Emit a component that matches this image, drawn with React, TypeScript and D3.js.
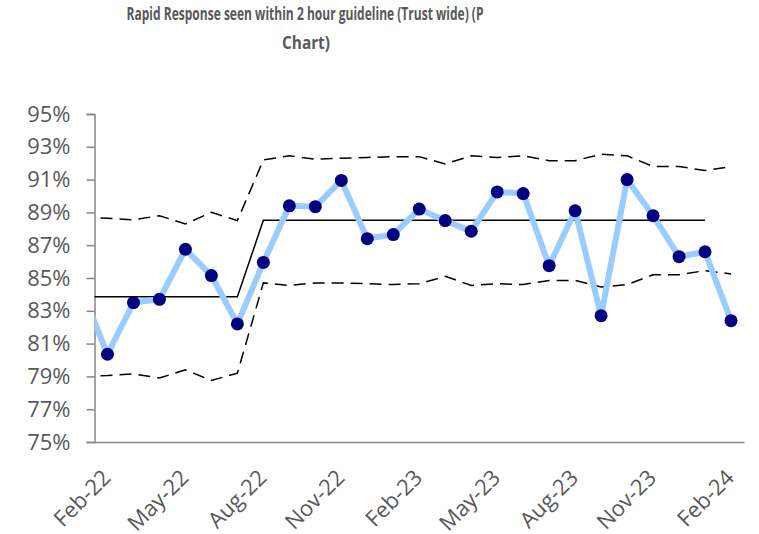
import React, { useEffect, useRef } from 'react';
import * as d3 from 'd3';

// months incl. Jan-22 which sits just off the left edge of the axis
const months = [
  'Jan-22', 'Feb-22', 'Mar-22', 'Apr-22', 'May-22', 'Jun-22', 'Jul-22', 'Aug-22', 'Sep-22',
  'Oct-22', 'Nov-22', 'Dec-22', 'Jan-23', 'Feb-23', 'Mar-23', 'Apr-23', 'May-23', 'Jun-23',
  'Jul-23', 'Aug-23', 'Sep-23', 'Oct-23', 'Nov-23', 'Dec-23', 'Jan-24', 'Feb-24',
];
const seen = [
  84.3, 80.35, 83.5, 83.7, 86.75, 85.15, 82.2, 85.95, 89.4, 89.35, 90.95, 87.4, 87.65, 89.2,
  88.5, 87.85, 90.25, 90.15, 85.75, 89.1, 82.7, 91.0, 88.8, 86.3, 86.6, 82.4,
];
const mean = [
  83.85, 83.85, 83.85, 83.85, 83.85, 83.85, 83.85, 88.52, 88.52, 88.52, 88.52, 88.52, 88.52,
  88.52, 88.52, 88.52, 88.52, 88.52, 88.52, 88.52, 88.52, 88.52, 88.52, 88.52, 88.52, null,
];
const ucl = [
  88.7, 88.65, 88.55, 88.8, 88.3, 89.0, 88.5, 92.2, 92.45, 92.25, 92.3, 92.35, 92.4, 92.4,
  91.95, 92.45, 92.35, 92.45, 92.15, 92.15, 92.55, 92.45, 91.8, 91.8, 91.55, 91.8,
];
const lcl = [
  79.0, 79.05, 79.15, 78.9, 79.4, 78.75, 79.2, 84.7, 84.55, 84.7, 84.7, 84.65, 84.6, 84.65,
  85.1, 84.55, 84.65, 84.6, 84.85, 84.85, 84.45, 84.6, 85.2, 85.2, 85.45, 85.25,
];
const yTicks = [75, 77, 79, 81, 83, 85, 87, 89, 91, 93, 95];
const xTickLabels = ['Feb-22', 'May-22', 'Aug-22', 'Nov-22', 'Feb-23', 'May-23', 'Aug-23', 'Nov-23', 'Feb-24'];

const App = () => {
  const ref = useRef<SVGSVGElement>(null);

  useEffect(() => {
    document.body.style.margin = '0';
    const width = 759;
    const height = 534;
    const margin = { top: 114, right: 15, bottom: 92, left: 94.5 };

    const svg = d3.select(ref.current).attr('width', width).attr('height', height);
    svg.selectAll('*').remove();

    // Feb-22 is index 1 -> first visible category
    const x = d3
      .scaleLinear()
      .domain([0.5, months.length - 0.5])
      .range([margin.left, width - margin.right]);
    const y = d3.scaleLinear().domain([75, 95]).range([height - margin.bottom, margin.top]);

    svg
      .append('defs')
      .append('clipPath')
      .attr('id', 'plot-clip')
      .append('rect')
      .attr('x', margin.left)
      .attr('y', 0)
      .attr('width', width - margin.right - margin.left)
      .attr('height', height);

    const font = "'Open Sans', sans-serif";

    // Title
    const title = svg
      .append('text')
      .attr('text-anchor', 'middle')
      .style('font-family', font)
      .style('font-weight', 'bold')
      .style('font-size', '18px')
      .style('fill', '#595959');
    title
      .append('tspan')
      .attr('x', 305)
      .attr('y', 20)
      .attr('textLength', 357)
      .attr('lengthAdjust', 'spacingAndGlyphs')
      .text('Rapid Response seen within 2 hour guideline (Trust wide) (P');
    title
      .append('tspan')
      .attr('x', 306)
      .attr('y', 49)
      .attr('textLength', 48)
      .attr('lengthAdjust', 'spacingAndGlyphs')
      .text('Chart)');

    // Y axis
    const yAxis = svg
      .append('g')
      .attr('transform', `translate(${margin.left},0)`)
      .call(
        d3
          .axisLeft(y)
          .tickValues(yTicks)
          .tickSize(8)
          .tickSizeOuter(8)
          .tickPadding(16)
          .tickFormat((d) => `${d}%`)
      );
    yAxis.selectAll('path, line').attr('stroke', '#868686').attr('stroke-width', 1.5);
    yAxis
      .selectAll('text')
      .style('font-family', font)
      .style('font-size', '22px')
      .style('fill', '#595959');

    // X axis line
    const xAxis = svg
      .append('g')
      .attr('transform', `translate(0,${height - margin.bottom})`)
      .call(
        d3
          .axisBottom(x)
          .tickValues(xTickLabels.map((m) => months.indexOf(m)))
          .tickSize(0)
          .tickSizeOuter(0)
          .tickFormat((d) => months[d as number])
      );
    xAxis.select('path').attr('stroke', '#868686').attr('stroke-width', 1.5);
    xAxis
      .selectAll('text')
      .attr('text-anchor', 'end')
      .attr('dy', 0)
      .attr('y', 0)
      .attr('transform', 'translate(4,37) rotate(-45)')
      .style('font-family', font)
      .style('font-size', '22px')
      .style('fill', '#595959');

    const plot = svg.append('g').attr('clip-path', 'url(#plot-clip)');

    const lineOf = (arr: (number | null)[]) =>
      d3
        .line<number | null>()
        .defined((d) => d !== null)
        .x((_, i) => x(i))
        .y((d) => y(d as number))(arr);

    // control limits
    [ucl, lcl].forEach((arr) => {
      plot
        .append('path')
        .attr('d', lineOf(arr))
        .attr('fill', 'none')
        .attr('stroke', '#000')
        .attr('stroke-width', 1.5)
        .attr('stroke-dasharray', '12,7');
    });

    // mean
    plot
      .append('path')
      .attr('d', lineOf(mean))
      .attr('fill', 'none')
      .attr('stroke', '#000')
      .attr('stroke-width', 1.5);

    // series
    plot
      .append('path')
      .attr('d', lineOf(seen))
      .attr('fill', 'none')
      .attr('stroke', '#99CCFF')
      .attr('stroke-width', 6)
      .attr('stroke-linejoin', 'round');

    plot
      .selectAll('.dot')
      .data(seen.slice(1))
      .enter()
      .append('circle')
      .attr('class', 'dot')
      .attr('cx', (_, i) => x(i + 1))
      .attr('cy', (d) => y(d))
      .attr('r', 6.5)
      .attr('fill', '#000080');
  }, []);

  return <svg ref={ref}></svg>;
};

export default App;
